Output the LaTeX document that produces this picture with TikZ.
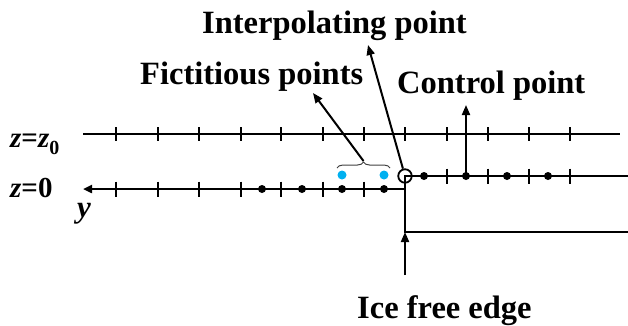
\documentclass[tikz,border=0pt]{standalone}
\usepackage{fontspec}
\setmainfont{Liberation Serif}
\usetikzlibrary{arrows.meta,decorations.pathreplacing}
\definecolor{fict}{RGB}{0,176,240}
\begin{document}
\begin{tikzpicture}[x=1pt,y=-1pt,
  axis/.style={line width=2.3pt},
  tick/.style={line width=2pt},
  dotb/.style={circle,fill=black,inner sep=0pt,minimum size=8pt},
  dotc/.style={circle,fill=fict,inner sep=0pt,minimum size=9pt},
  lab/.style={font=\fontsize{32.5}{36}\selectfont\bfseries,inner sep=0pt,anchor=base west},
  side/.style={font=\fontsize{29}{32}\selectfont\bfseries,inner sep=0pt,anchor=base west},
  arr/.style={line width=2pt,-{Triangle[length=10pt,width=8pt]}},
  larr/.style={line width=2.3pt,-{Triangle[length=9pt,width=8pt]}},
]
\useasboundingbox (0,0) rectangle (628,325);
% top line z=z0
\coordinate (t0) at (83,134);
\coordinate (t1) at (620,134);
\draw[axis] (t0) -- (t1);
\foreach \x in {116,158,199,241,281,323,364,405,447,488,529,570}
  \draw[tick] (\x,127) -- (\x,141);
% z=0 line
\coordinate (zc) at (405,189);
\coordinate (zy) at (83,189);
\draw[larr] (zc) -- (zy);
\foreach \x in {116,158,199,241,281,323,364}
  \draw[tick] (\x,181.5) -- (\x,196.5);
\foreach \x/\n in {262/a1,302/a2,342/a3,384/a4}
  \node[dotb] (\n) at (\x,189) {};
% fictitious points
\node[dotc] (f1) at (342,175) {};
\node[dotc] (f2) at (384,175) {};
% ice cover outline
\coordinate (edgeB) at (405,232);
\coordinate (ipc) at (405,176);
\coordinate (rU) at (628,176);
\coordinate (rL) at (628,232);
\draw[axis] (rL) -- (edgeB) -- (ipc) -- (rU);
\foreach \x in {447,488,529,570}
  \draw[tick] (\x,168.5) -- (\x,183.5);
\foreach \x/\n in {424/b1,466/b2,507/b3,548/b4}
  \node[dotb] (\n) at (\x,176) {};
% interpolating point
\node[circle,draw,line width=1.8pt,minimum size=13.5pt,inner sep=0pt] (ip) at (405,176) {};
% brace
\coordinate (brL) at (337,168);
\coordinate (brR) at (390,168);
\draw[line width=1pt,black!75,decorate,decoration={brace,amplitude=6pt}] (brL) -- (brR);
\coordinate (brT) at (363.5,161);
% labels
\node[lab] (tint) at (202,33) {Interpolating point};
\node[lab] (tfic) at (140,84) {Fictitious points};
\node[lab] (tctl) at (397,93) {Control point};
\node[lab] (tice) at (357,318) {Ice free edge};
\node[side] (lz0) at (10,147) {\textit{z}=\textit{z}\raisebox{-0.25em}{\fontsize{20}{20}\selectfont 0}};
\node[side] (lz) at (10,197) {\textit{z}=0};
\node[inner sep=0pt,anchor=base west,font=\fontsize{31}{33}\selectfont\bfseries\itshape] (ly) at (77,217) {y};
% arrows
\coordinate (intTip) at (368,45);
\coordinate (ficTip) at (313,93);
\coordinate (ctlTip) at (466,105);
\coordinate (iceS) at (405,275);
\draw[arr] (ip) -- (intTip);
\draw[arr] (brT) -- (ficTip);
\draw[arr] (b2.center) -- (ctlTip);
\draw[arr] (iceS) -- (edgeB);
\end{tikzpicture}
\end{document}
